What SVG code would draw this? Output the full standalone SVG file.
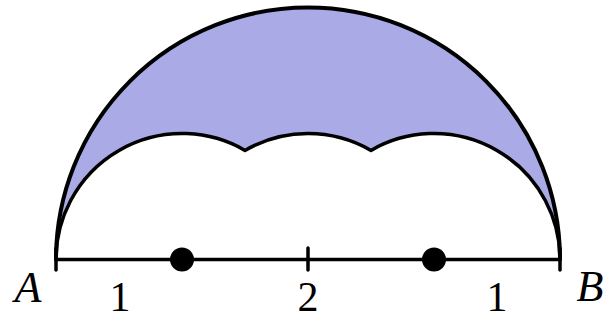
<svg xmlns="http://www.w3.org/2000/svg" width="605" height="321" viewBox="0 0 605 321">
<style>
.lbl{font-family:"Liberation Serif","Times New Roman",serif;font-size:44px;fill:#000}
.num{font-size:42px}
.it{font-style:italic}
.ln{fill:none;stroke:#000;stroke-linecap:round;stroke-linejoin:round}
</style>
<rect width="605" height="321" fill="#fff"/>
<g id="region">
<path d="M56,259.5 A252,252 0 0 1 560,259.5 A126,126 0 0 0 371,150.4 A126,126 0 0 0 245,150.4 A126,126 0 0 0 56,259.5 Z" fill="#aaaae6"/>
</g>
<g id="connectors">
<path class="ln" stroke-width="4" d="M56,259.5 A252,252 0 0 1 560,259.5"/>
<path class="ln" stroke-width="3.5" d="M56,259.5 A126,126 0 0 1 245,150.4 A126,126 0 0 1 371,150.4 A126,126 0 0 1 560,259.5"/>
<path class="ln" stroke-width="3.5" d="M56,259.5 H560 M56,248 V270 M308,248 V270 M560,248 V270"/>
</g>
<g id="dots">
<circle cx="182" cy="259.5" r="12" fill="#000"/>
<circle cx="434" cy="259.5" r="12" fill="#000"/>
</g>
<g id="labels">
<text class="lbl it" x="28" y="302" text-anchor="middle">A</text>
<text class="lbl it" x="590" y="301" text-anchor="middle">B</text>
<text class="lbl num" x="120" y="311" text-anchor="middle">1</text>
<text class="lbl num" x="308" y="311" text-anchor="middle">2</text>
<text class="lbl num" x="497" y="311" text-anchor="middle">1</text>
</g>
</svg>
